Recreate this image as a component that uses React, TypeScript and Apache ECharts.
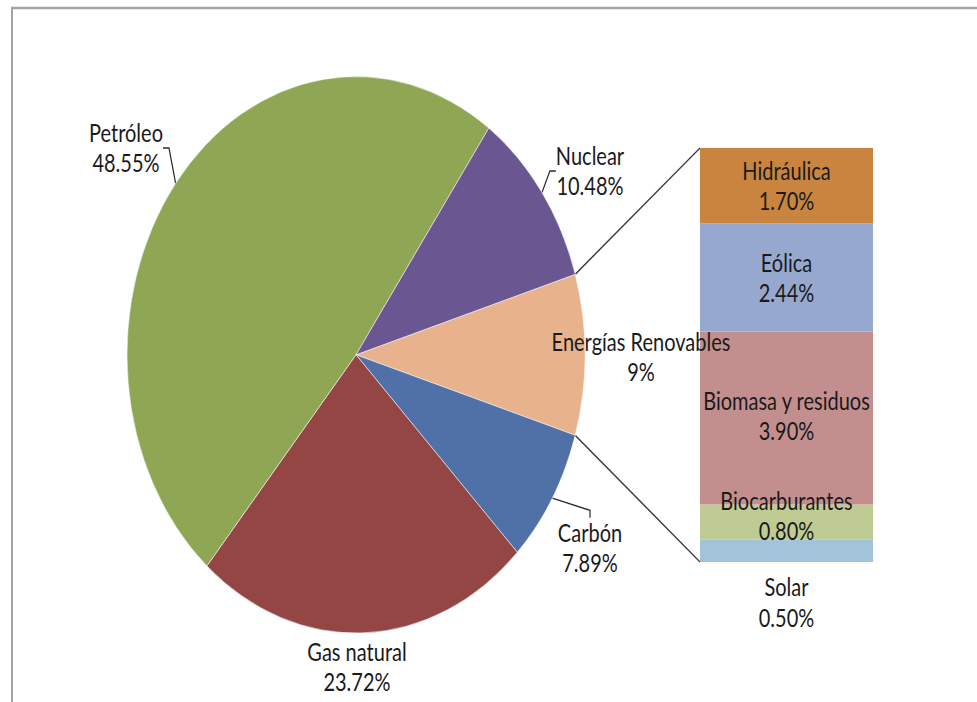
import React, { useEffect, useRef } from "react";
import * as echarts from "echarts";

// Main pie (order clockwise from the "Energías Renovables" slice at the right)
const otherNames = ["Carbón", "Gas natural", "Petróleo", "Nuclear"];
const otherValues = [7.89, 23.72, 48.55, 10.48];
const renovablesName = "Energías Renovables";
const renovablesLabel = "9%";

// Breakdown of renewables (top to bottom in the bar)
const subNames = ["Hidráulica", "Eólica", "Biomasa y residuos", "Biocarburantes", "Solar"];
const subValues = [1.7, 2.44, 3.9, 0.8, 0.5];

// styles
const SY = 1.215; // vertical stretch of the original picture
const W = 977;
const H = 702 / SY;
const FONT = "Lato, 'Open Sans', sans-serif";
const pieColors: Record<string, string> = {
  "Energías Renovables": "#E8B28D",
  "Carbón": "#5071A7",
  "Gas natural": "#944644",
  "Petróleo": "#8FA654",
  "Nuclear": "#6A5690",
};
const subColors: Record<string, string> = {
  "Hidráulica": "#C9853F",
  "Eólica": "#97A8CF",
  "Biomasa y residuos": "#C38F8E",
  "Biocarburantes": "#BECC93",
  "Solar": "#A3C3D8",
};
const pieCenter = [356, 292];
const pieRadius = 229;
const barGrid = { left: 700, top: 148 / SY, width: 173, height: (562 - 148) / SY };
const labelPos: Record<string, [number, number]> = {
  "Petróleo": [126, 148 / SY],
  "Nuclear": [590, 171 / SY],
  "Energías Renovables": [641, 357 / SY],
  "Carbón": [590, 548 / SY],
  "Gas natural": [357, 667 / SY],
};
const barLabelOffset: Record<string, [number, number]> = {
  "Biomasa y residuos": [0, -2],
  "Biocarburantes": [0, -5],
};

export default function App() {
  const ref = useRef<HTMLDivElement>(null);
  useEffect(() => {
    if (!ref.current) return;
    const chart = echarts.init(ref.current, undefined, { renderer: "svg" });

    const renovablesValue = subValues.reduce((a, b) => a + b, 0);
    const pieNames = [renovablesName, ...otherNames];
    const pieValues = [renovablesValue, ...otherValues];
    const total = pieValues.reduce((a, b) => a + b, 0);
    const halfAngle = (renovablesValue / total) * Math.PI; // half of the slice, radians
    const startAngle = (halfAngle * 180) / Math.PI;

    const [cx, cy] = pieCenter;
    const p1 = [cx + pieRadius * Math.cos(halfAngle), cy - pieRadius * Math.sin(halfAngle)];
    const p2 = [cx + pieRadius * Math.cos(halfAngle), cy + pieRadius * Math.sin(halfAngle)];
    const barTop = [barGrid.left, barGrid.top];
    const barBottom = [barGrid.left, barGrid.top + barGrid.height];

    const textStyle = { fontFamily: FONT, fontSize: 20, color: "#1a1a1a", lineHeight: 25 };

    const stackOrder = subNames.map((n, i) => i).reverse(); // bottom first

    chart.setOption({
      animation: false,
      backgroundColor: "#ffffff",
      graphic: [
        {
          type: "rect",
          shape: { x: 12, y: 8 / SY, width: 1200, height: 1200 },
          style: { fill: "none", stroke: "#a3a3a3", lineWidth: 2 },
          z: 0,
        },
        {
          type: "line",
          shape: { x1: p1[0], y1: p1[1], x2: barTop[0], y2: barTop[1] },
          style: { stroke: "#3a3a3a", lineWidth: 1.3 },
          z: 1,
        },
        {
          type: "line",
          shape: { x1: p2[0], y1: p2[1], x2: barBottom[0], y2: barBottom[1] },
          style: { stroke: "#3a3a3a", lineWidth: 1.3 },
          z: 1,
        },
      ],
      grid: { ...barGrid, containLabel: false },
      xAxis: { type: "category", data: ["Renovables"], show: false },
      yAxis: { type: "value", min: 0, max: renovablesValue, show: false },
      series: [
        {
          type: "pie",
          center: pieCenter,
          radius: pieRadius,
          startAngle,
          clockwise: true,
          avoidLabelOverlap: false,
          itemStyle: { borderColor: "rgba(255,255,255,0.6)", borderWidth: 0.8 },
          label: {
            show: true,
            position: "outside",
            ...textStyle,
            align: "center",
            formatter: (p: any) =>
              p.name === renovablesName
                ? `${p.name}\n${renovablesLabel}`
                : `${p.name}\n${Number(p.value).toFixed(2)}%`,
          },
          labelLine: { show: true, length: 6, length2: 6, lineStyle: { color: "#2a2a2a", width: 1.2 } },
          labelLayout: (params: any) => {
            const pos = labelPos[pieNames[params.dataIndex]];
            return { x: pos[0], y: pos[1], align: "center", verticalAlign: "middle" };
          },
          data: pieNames.map((n, i) => ({
            name: n,
            value: pieValues[i],
            itemStyle: { color: pieColors[n] },
            labelLine: {
              show: n === "Petróleo" || n === "Nuclear" || n === "Carbón",
            },
          })),
        },
        ...stackOrder.map((i) => ({
          type: "bar",
          name: subNames[i],
          stack: "ren",
          barWidth: "100%",
          barCategoryGap: "0%",
          itemStyle: { color: subColors[subNames[i]], borderWidth: 0 },
          label: {
            show: true,
            position: subNames[i] === "Solar" ? "bottom" : "inside",
            distance: 8,
            offset: barLabelOffset[subNames[i]] || [0, 0],
            ...textStyle,
            align: "center",
            formatter: (p: any) => `${p.seriesName}\n${Number(p.value).toFixed(2)}%`,
          },
          data: [subValues[i]],
        })),
      ],
    });
    return () => chart.dispose();
  }, []);

  return (
    <div
      ref={ref}
      style={{
        position: "fixed",
        left: 0,
        top: 0,
        width: W,
        height: H,
        transform: `scaleY(${SY})`,
        transformOrigin: "0 0",
        background: "#fff",
      }}
    />
  );
}
